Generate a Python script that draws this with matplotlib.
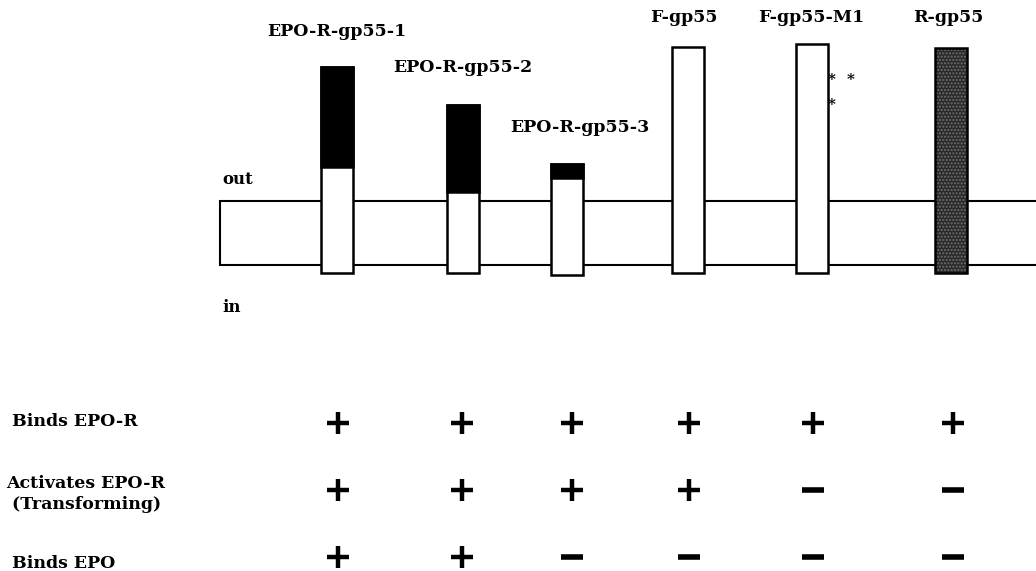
import matplotlib.pyplot as plt
from matplotlib.patches import Rectangle

# constructs drawn across the membrane
names = ["EPO-R-gp55-1", "EPO-R-gp55-2", "EPO-R-gp55-3", "F-gp55", "F-gp55-M1", "R-gp55"]
bar_x = [337, 462.5, 567, 687.5, 812, 951]        # centre of each bar
bar_top = [67, 105, 164, 47, 44, 48]
black_end = [167, 192, 178, None, None, None]     # EPO-R part (black) ends here
bar_bottom = [273, 273, 275, 273, 273, 273]
label_x = [337, 463, 580, 684, 811, 948]
label_y = [32, 68, 127, 18, 18, 18]

# properties table
rows = ["Binds EPO-R", "Activates EPO-R\n (Transforming)", "Binds EPO"]
row_label_y = [421, 494, 563]
row_y = [423, 490, 557]
col_x = [338, 462, 572, 689, 813, 953]
table = [
    [1, 1, 1, 1, 1, 1],
    [1, 1, 1, 1, 0, 0],
    [1, 1, 0, 0, 0, 0],
]

fig = plt.figure(figsize=(10.36, 5.71), dpi=100)
ax = fig.add_axes([0, 0, 1, 1])
ax.set_xlim(0, 1036)
ax.set_ylim(571, 0)
ax.axis("off")

font = dict(family="DejaVu Serif", fontweight="bold", color="black")

# membrane
ax.add_patch(Rectangle((220, 201), 830, 64, facecolor="white", edgecolor="black", lw=1.5, zorder=1))
ax.text(222, 180, "out", ha="left", va="center", fontsize=12, **font)
ax.text(222, 307, "in", ha="left", va="center", fontsize=12, **font)

w = 32
for i, name in enumerate(names):
    x0 = bar_x[i] - w / 2
    h = bar_bottom[i] - bar_top[i]
    if name == "R-gp55":
        ax.add_patch(Rectangle((x0, bar_top[i]), w, h, facecolor="#2a2a2a", edgecolor="#707070",
                               hatch=".....", lw=0, zorder=2))
        ax.add_patch(Rectangle((x0, bar_top[i]), w, h, facecolor="none", edgecolor="black", lw=1.8, zorder=3))
    else:
        ax.add_patch(Rectangle((x0, bar_top[i]), w, h, facecolor="white", edgecolor="black", lw=1.8, zorder=2))
        if black_end[i] is not None:
            ax.add_patch(Rectangle((x0, bar_top[i]), w, black_end[i] - bar_top[i],
                                   facecolor="black", edgecolor="black", lw=1.8, zorder=3))
    ax.text(label_x[i], label_y[i], name, ha="center", va="center", fontsize=12.5, **font)

# mutation stars next to F-gp55-M1
sx = bar_x[4] + w / 2
for dx, dy in [(4, 80), (23, 80), (4, 105)]:
    ax.text(sx + dx, dy, "*", ha="center", va="center", fontsize=11, **font)

for r, label in enumerate(rows):
    lx = 6 if "\n" in label else 12
    ax.text(lx, row_label_y[r], label, ha="left", va="center", fontsize=12.5, linespacing=1.3, **font)
    for c, v in enumerate(table[r]):
        if v:
            ax.plot(col_x[c], row_y[r], marker="+", ms=16, mew=3.2, color="black")
        else:
            ax.plot(col_x[c], row_y[r], marker="_", ms=16, mew=4, color="black")

fig.savefig("out.png", dpi=100)
